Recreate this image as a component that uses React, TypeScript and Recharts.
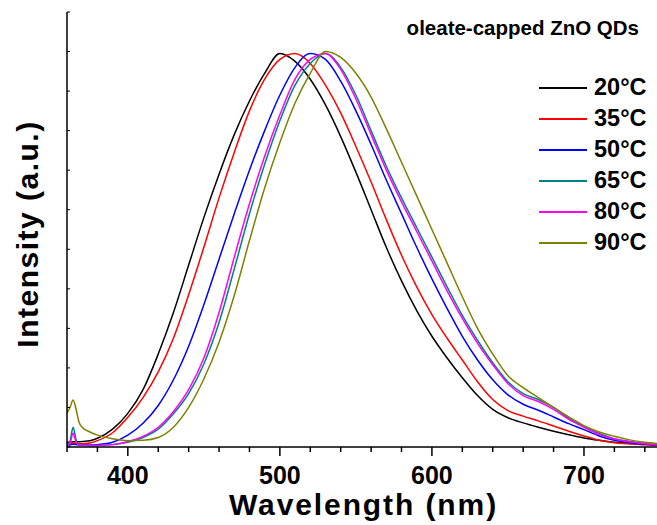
import React from 'react';
import { LineChart, Line, XAxis, YAxis } from 'recharts';

const FONT = '"Liberation Sans", Arial, Helvetica, sans-serif';

const wavelengths = [360, 362, 364, 366, 368, 370, 375, 380, 390, 400, 410, 420, 430, 440, 450, 460, 470, 480, 490, 500, 510, 520, 530, 540, 550, 560, 570, 580, 590, 600, 610, 620, 630, 640, 650, 660, 670, 680, 690, 700, 710, 720, 730, 740, 750];

const i20 = [0.012, 0.012, 0.013, 0.013, 0.013, 0.014, 0.016, 0.022, 0.045, 0.085, 0.145, 0.235, 0.34, 0.46, 0.58, 0.69, 0.79, 0.875, 0.945, 0.995, 0.975, 0.93, 0.865, 0.785, 0.695, 0.60, 0.505, 0.42, 0.345, 0.28, 0.225, 0.175, 0.13, 0.095, 0.074, 0.061, 0.05, 0.04, 0.031, 0.023, 0.017, 0.012, 0.009, 0.007, 0.005];
const i35 = [0.008, 0.008, 0.010, 0.009, 0.008, 0.008, 0.010, 0.016, 0.036, 0.075, 0.125, 0.19, 0.275, 0.385, 0.505, 0.63, 0.745, 0.85, 0.93, 0.98, 0.995, 0.97, 0.915, 0.845, 0.76, 0.67, 0.575, 0.485, 0.405, 0.335, 0.275, 0.22, 0.165, 0.12, 0.092, 0.078, 0.066, 0.053, 0.04, 0.028, 0.017, 0.011, 0.008, 0.006, 0.004];
const i50 = [0.005, 0.005, 0.007, 0.006, 0.005, 0.005, 0.005, 0.006, 0.012, 0.03, 0.06, 0.105, 0.17, 0.255, 0.36, 0.475, 0.59, 0.70, 0.80, 0.89, 0.96, 0.995, 0.98, 0.925, 0.85, 0.765, 0.675, 0.59, 0.505, 0.425, 0.35, 0.28, 0.22, 0.17, 0.132, 0.108, 0.093, 0.076, 0.059, 0.044, 0.028, 0.017, 0.011, 0.007, 0.005];
const i65 = [0.005, 0.015, 0.050, 0.018, 0.006, 0.005, 0.004, 0.004, 0.006, 0.012, 0.024, 0.045, 0.084, 0.135, 0.21, 0.315, 0.45, 0.59, 0.715, 0.825, 0.915, 0.97, 0.995, 0.96, 0.89, 0.80, 0.71, 0.63, 0.555, 0.48, 0.405, 0.333, 0.27, 0.213, 0.165, 0.135, 0.12, 0.10, 0.073, 0.052, 0.034, 0.021, 0.014, 0.009, 0.006];
const i80 = [0.004, 0.010, 0.035, 0.012, 0.005, 0.004, 0.004, 0.004, 0.006, 0.014, 0.027, 0.05, 0.09, 0.145, 0.225, 0.34, 0.48, 0.615, 0.735, 0.84, 0.93, 0.98, 0.995, 0.955, 0.88, 0.79, 0.70, 0.62, 0.545, 0.47, 0.395, 0.325, 0.262, 0.208, 0.16, 0.13, 0.115, 0.095, 0.07, 0.05, 0.032, 0.02, 0.013, 0.008, 0.005];
const i90 = [0.086, 0.100, 0.119, 0.095, 0.062, 0.050, 0.038, 0.030, 0.021, 0.016, 0.017, 0.024, 0.05, 0.10, 0.172, 0.265, 0.383, 0.522, 0.655, 0.77, 0.87, 0.945, 1.0, 0.985, 0.945, 0.885, 0.805, 0.72, 0.635, 0.55, 0.465, 0.38, 0.30, 0.235, 0.18, 0.15, 0.125, 0.10, 0.076, 0.054, 0.038, 0.027, 0.018, 0.012, 0.008];

const seriesNames = ['20°C', '35°C', '50°C', '65°C', '80°C', '90°C'];
const seriesColors = ['#000000', '#ff0000', '#0000ff', '#008080', '#ff00ff', '#808000'];
const seriesValues = [i20, i35, i50, i65, i80, i90];

const xTicks = [360, 380, 400, 420, 440, 460, 480, 500, 520, 540, 560, 580, 600, 620, 640, 660, 680, 700, 720, 740];
const yTicks = [0, 0.1, 0.2, 0.3, 0.4, 0.5, 0.6, 0.7, 0.8, 0.9, 1.0, 1.1];

const titleText = 'oleate-capped ZnO QDs';
const xTitle = 'Wavelength (nm)';
const yTitle = 'Intensity (a.u.)';

const data = wavelengths.map((w, i) => {
  const row: Record<string, number> = { w };
  seriesValues.forEach((vals, k) => {
    row['s' + k] = vals[i];
  });
  return row;
});

const EmptyTick = () => <g />;

const BottomTick = (props: any) => {
  const { x, y, payload } = props;
  const major = payload.value % 100 === 0;
  return (
    <g>
      <line x1={x} x2={x} y1={y} y2={y + (major ? 9 : 5)} stroke="#000" strokeWidth={1.5} />
      {major && (
        <text x={x} y={y + 37} textAnchor="middle" fontFamily={FONT} fontWeight="bold" fontSize={25} fill="#000">
          {payload.value}
        </text>
      )}
    </g>
  );
};

const XLabel = (props: any) => {
  const vb = props.viewBox || { x: 67, width: 593, y: 447, height: 78 };
  const cx = vb.x + vb.width / 2;
  return (
    <text x={cx} y={515} textAnchor="middle" fontFamily={FONT} fontWeight="bold" fontSize={30} letterSpacing={1.9} fill="#000">
      {xTitle}
    </text>
  );
};

const YLabel = () => (
  <text x={38} y={234} transform="rotate(-90 38 234)" textAnchor="middle" fontFamily={FONT} fontWeight="bold" fontSize={30} letterSpacing={1.5} fill="#000">
    {yTitle}
  </text>
);

export default function App() {
  return (
    <div style={{ position: 'absolute', left: 0, top: 0, width: 657, height: 525, overflow: 'hidden', background: '#fff', fontFamily: FONT }}>
      <LineChart width={665} height={525} data={data} margin={{ top: 12, right: 5, bottom: 0, left: 0 }}>
        <XAxis
          xAxisId="b"
          dataKey="w"
          type="number"
          domain={[360, 750]}
          ticks={xTicks}
          interval={0}
          allowDataOverflow
          height={78}
          tickSize={0}
          tickMargin={0}
          tickLine={false}
          tick={<BottomTick />}
          axisLine={{ stroke: '#000', strokeWidth: 1.5 }}
          label={<XLabel />}
        />
        <XAxis
          xAxisId="t"
          orientation="top"
          dataKey="w"
          type="number"
          domain={[360, 750]}
          ticks={xTicks}
          interval={0}
          allowDataOverflow
          height={0}
          tickSize={-3}
          tick={<EmptyTick />}
          tickLine={{ stroke: '#000', strokeWidth: 1 }}
          axisLine={{ stroke: '#000', strokeWidth: 1.5 }}
        />
        <YAxis
          yAxisId="l"
          type="number"
          domain={[0, 1.1]}
          ticks={yTicks}
          interval={0}
          allowDataOverflow
          width={67}
          tickSize={-3}
          tick={<EmptyTick />}
          tickLine={{ stroke: '#000', strokeWidth: 1 }}
          axisLine={{ stroke: '#000', strokeWidth: 1.5 }}
          label={<YLabel />}
        />
        {seriesNames.map((name, k) => (
          <Line
            key={name}
            xAxisId="b"
            yAxisId="l"
            type="monotone"
            dataKey={'s' + k}
            name={name}
            stroke={seriesColors[k]}
            strokeWidth={1.5}
            dot={false}
            isAnimationActive={false}
          />
        ))}
      </LineChart>
      <div style={{ position: 'absolute', right: 18, top: 18, fontSize: 20.5, lineHeight: '20px', fontWeight: 'bold', whiteSpace: 'nowrap', color: '#000' }}>
        {titleText}
      </div>
      <div style={{ position: 'absolute', left: 539, top: 72, width: 118 }}>
        {seriesNames.map((name, k) => (
          <div key={name} style={{ display: 'flex', alignItems: 'center', height: 31 }}>
            <svg width={48} height={4} style={{ display: 'block' }}>
              <line x1={0} x2={48} y1={2} y2={2} stroke={seriesColors[k]} strokeWidth={2} />
            </svg>
            <span style={{ marginLeft: 7, fontSize: 23.5, fontWeight: 'bold', color: '#000', whiteSpace: 'nowrap' }}>{name}</span>
          </div>
        ))}
      </div>
    </div>
  );
}
